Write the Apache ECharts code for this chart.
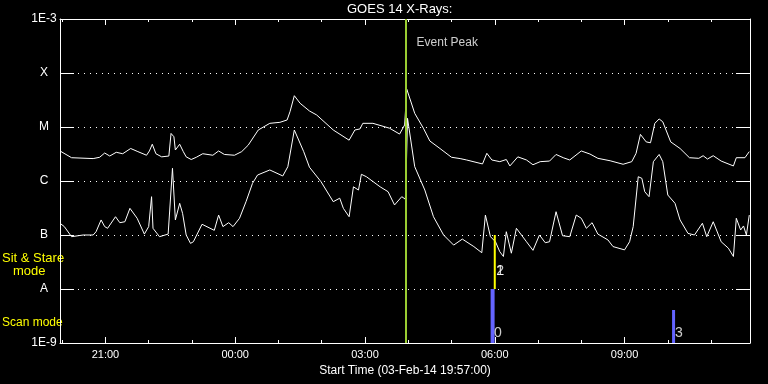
<!DOCTYPE html>
<html><head><meta charset="utf-8">
<script src="https://cdn.jsdelivr.net/npm/echarts@6/dist/echarts.min.js"></script>
<style>html,body{margin:0;padding:0;background:#000}#c{width:768px;height:384px}</style>
</head><body><div id="c"></div>
<script>
const titleText = 'GOES 14 X-Rays:';
const xAxisTitle = 'Start Time (03-Feb-14 19:57:00)';
const startTime = '19:57';
const endTime = '11:54';
const xTickLabels = ['21:00', '00:00', '03:00', '06:00', '09:00'];
const yTickValues = [1e-9, 1e-8, 1e-7, 1e-6, 1e-5, 1e-4, 1e-3];
const yTickLabels = ['1E-9', 'A', 'B', 'C', 'M', 'X', '1E-3'];

const upperTimes = ['19:57','20:13','20:43','20:52','20:59','21:06','21:15','21:24','21:35','21:45','21:57','22:01','22:05','22:10','22:18','22:28','22:31','22:35','22:37','22:43','22:48','22:52','22:59','23:06','23:15','23:29','23:37','23:45','23:59','00:09','00:18','00:32','00:48','01:02','01:12','01:16','01:22','01:30','01:43','01:53','02:16','02:38','02:46','02:53','02:57','03:11','03:34','03:48','03:55','03:58','04:09','04:21','04:30','04:44','05:00','05:12','05:21','05:43','05:49','05:56','06:07','06:16','06:21','06:32','06:44','06:53','07:03','07:16','07:25','07:35','07:44','08:00','08:12','08:23','08:40','08:58','09:10','09:16','09:22','09:30','09:36','09:42','09:48','09:53','10:04','10:17','10:30','10:43','10:49','10:55','11:03','11:14','11:31','11:35','11:47','11:53'];
const upperFlux = [3.6e-6,2.7e-6,2.6e-6,2.75e-6,3.3e-6,2.9e-6,3.4e-6,3.2e-6,4.0e-6,3.5e-6,3.0e-6,3.6e-6,4.8e-6,3.2e-6,2.8e-6,2.9e-6,7.6e-6,6.6e-6,3.75e-6,4.8e-6,3.5e-6,2.8e-6,2.5e-6,2.75e-6,3.2e-6,3.0e-6,3.6e-6,3.1e-6,3.0e-6,3.5e-6,4.6e-6,8.8e-6,1.17e-5,1.22e-5,1.35e-5,1.92e-5,3.8e-5,2.75e-5,1.98e-5,1.67e-5,8.8e-6,5.7e-6,8.8e-6,9.2e-6,1.17e-5,1.17e-5,9.5e-6,7.4e-6,1.09e-5,5.0e-5,1.79e-5,9.5e-6,5.5e-6,4.0e-6,2.75e-6,2.6e-6,2.45e-6,2.07e-6,3.26e-6,2.45e-6,2.28e-6,2.5e-6,1.9e-6,2.8e-6,2.45e-6,2.0e-6,2.28e-6,2.34e-6,3.1e-6,2.7e-6,2.45e-6,3.6e-6,3.16e-6,2.63e-6,2.37e-6,2.04e-6,2.28e-6,3.26e-6,7.3e-6,5.3e-6,5.1e-6,1.17e-5,1.41e-5,1.25e-5,5.3e-6,4.0e-6,2.7e-6,2.63e-6,2.94e-6,2.55e-6,2.94e-6,2.34e-6,1.9e-6,2.7e-6,2.7e-6,3.5e-6];

const lowerTimes = ['19:57','20:03','20:13','20:29','20:43','20:47','20:54','20:59','21:03','21:14','21:20','21:27','21:34','21:44','21:54','22:00','22:04','22:06','22:15','22:27','22:33','22:37','22:43','22:47','22:52','22:58','23:02','23:14','23:31','23:37','23:43','23:51','23:57','00:06','00:15','00:24','00:31','00:48','01:06','01:13','01:22','01:35','01:43','01:59','02:16','02:25','02:30','02:38','02:44','02:51','02:55','03:02','03:21','03:32','03:41','03:51','03:56','03:57','03:59','04:09','04:23','04:35','04:49','05:03','05:15','05:31','05:42','05:47','05:54','06:01','06:07','06:12','06:16','06:23','06:30','06:44','06:53','07:02','07:10','07:16','07:25','07:34','07:44','07:53','08:00','08:07','08:15','08:23','08:37','08:44','09:00','09:07','09:12','09:19','09:24','09:28','09:34','09:40','09:48','09:53','10:00','10:10','10:17','10:28','10:37','10:48','10:54','11:03','11:14','11:24','11:31','11:35','11:41','11:45','11:49','11:53'];
const lowerFlux = [1.65e-7,1.43e-7,9.3e-8,1.0e-7,1.0e-7,1.15e-7,1.9e-7,1.43e-7,1.33e-7,2.18e-7,1.69e-7,1.76e-7,3.12e-7,2.04e-7,1.04e-7,1.43e-7,5.12e-7,1.33e-7,9.3e-8,1.04e-7,1.72e-6,1.9e-7,3.86e-7,2.52e-7,1.0e-7,7.0e-8,7.5e-8,1.58e-7,1.22e-7,2.34e-7,1.43e-7,1.69e-7,1.43e-7,2.04e-7,4.14e-7,9.06e-7,1.29e-6,1.6e-6,1.24e-6,1.84e-6,8.8e-6,3.5e-6,1.8e-6,9.7e-7,4.14e-7,4.8e-7,3.12e-7,2.18e-7,7.8e-7,6.8e-7,1.33e-6,1.2e-6,7.8e-7,6.34e-7,3.6e-7,5.12e-7,4.6e-7,1.2e-6,1.45e-5,1.84e-6,6.8e-7,2.18e-7,1.0e-7,6.5e-8,8.4e-8,6.1e-8,4.7e-8,2.34e-7,9.3e-8,7.5e-8,4.9e-8,4.0e-8,1.15e-7,4.6e-8,1.33e-7,7.5e-8,5.2e-8,1.0e-7,7.2e-8,7.5e-8,2.7e-7,9.7e-8,9.3e-8,2.34e-7,2.04e-7,1.33e-7,1.69e-7,1.04e-7,8.1e-8,6.1e-8,5.3e-8,7.5e-8,1.43e-7,1.2e-6,1.12e-6,6.34e-7,5.12e-7,2.28e-6,3.1e-6,2.28e-6,5.5e-7,3.86e-7,1.9e-7,1.07e-7,1.0e-7,1.65e-7,9.3e-8,1.76e-7,7.5e-8,5.7e-8,4.0e-8,2.04e-7,1.24e-7,1.47e-7,1.0e-7,2.34e-7];

const eventPeakTime = '03:57';
const eventPeakLabel = 'Event Peak';
const eventPeakLabelFlux = 3.6e-4;

const scanTimes = ['05:57', '10:08'];
const scanBottoms = [1e-9, 1e-9];
const scanTops = [1e-8, 4.1e-9];
const scanLabels = ['0', '3'];
const scanLabelFlux = [1.5e-9, 1.55e-9];

const stareTimes = ['06:00'];
const stareBottoms = [1e-8];
const stareTops = [1e-7];
const stareLabels = ['1', '2'];
const stareLabelTimes = ['06:00', '06:00'];
const stareLabelFlux = [2.1e-8, 2.1e-8];

const FONT = 'Liberation Sans';
const WHITE = '#ffffff';
const YELLOW = '#ffff00';
const BLUE = '#6464ff';
const GREEN = '#9acd32';
const scanWidths = [4, 3];

function toMin(s) {
  const p = s.split(':').map(Number);
  return (p[0] < 12 ? p[0] + 24 : p[0]) * 60 + p[1];
}
function fmtMin(v) {
  const m = ((Math.round(v) % 1440) + 1440) % 1440;
  const h = Math.floor(m / 60), mm = m % 60;
  return (h < 10 ? '0' : '') + h + ':' + (mm < 10 ? '0' : '') + mm;
}
const xMin = toMin(startTime), xMax = toMin(endTime);
const majorTicks = xTickLabels.map(toMin);
const minorTicks = [];
for (let t = Math.ceil(xMin / 60) * 60; t <= xMax; t += 60) minorTicks.push(t);

const yLabelMap = {};
yTickValues.forEach((v, i) => { yLabelMap[Math.round(Math.log10(v))] = yTickLabels[i]; });

const baseX = {
  type: 'value', min: xMin, max: xMax, gridIndex: 0,
  splitLine: { show: false }
};
const xAxes = [
  Object.assign({}, baseX, {
    position: 'bottom',
    axisLine: { show: true, lineStyle: { color: WHITE, width: 1 } },
    axisTick: { show: true, inside: true, length: 6, customValues: majorTicks, lineStyle: { color: WHITE } },
    axisLabel: { show: true, customValues: majorTicks, formatter: fmtMin, color: WHITE, fontSize: 11, fontFamily: FONT, margin: 6 },
    name: xAxisTitle, nameLocation: 'middle', nameGap: 19,
    nameTextStyle: { color: WHITE, fontSize: 12, fontFamily: FONT }
  }),
  Object.assign({}, baseX, {
    position: 'bottom',
    axisLine: { show: false },
    axisTick: { show: true, inside: true, length: 3, customValues: minorTicks, lineStyle: { color: WHITE } },
    axisLabel: { show: false }
  }),
  Object.assign({}, baseX, {
    position: 'top',
    axisLine: { show: true, lineStyle: { color: WHITE, width: 1 } },
    axisTick: { show: true, inside: true, length: 6, customValues: majorTicks, lineStyle: { color: WHITE } },
    axisLabel: { show: false }
  }),
  Object.assign({}, baseX, {
    position: 'top',
    axisLine: { show: false },
    axisTick: { show: true, inside: true, length: 3, customValues: minorTicks, lineStyle: { color: WHITE } },
    axisLabel: { show: false }
  })
];

const baseY = { type: 'log', logBase: 10, min: yTickValues[0], max: yTickValues[yTickValues.length - 1], gridIndex: 0 };
const yAxes = [
  Object.assign({}, baseY, {
    position: 'left',
    axisLine: { show: true, lineStyle: { color: WHITE, width: 1 } },
    axisTick: { show: true, inside: true, length: 14, lineStyle: { color: WHITE } },
    axisLabel: {
      show: true, color: WHITE, fontSize: 12, fontFamily: FONT, margin: 16, align: 'center',
      formatter: v => yLabelMap[Math.round(Math.log10(v))] || ''
    },
    splitLine: { show: true, showMinLine: false, showMaxLine: false, lineStyle: { color: WHITE, width: 1, type: [1, 5] } }
  }),
  Object.assign({}, baseY, {
    position: 'right',
    axisLine: { show: true, lineStyle: { color: WHITE, width: 1 } },
    axisTick: { show: true, inside: true, length: 14, lineStyle: { color: WHITE } },
    axisLabel: { show: false },
    splitLine: { show: false }
  })
];

const series = [];
series.push({
  type: 'line', name: 'long', showSymbol: false, symbol: 'none',
  data: upperTimes.map((t, i) => [toMin(t), upperFlux[i]]),
  lineStyle: { color: WHITE, width: 1 }, z: 3,
  markLine: {
    silent: true, symbol: 'none', label: { show: false },
    lineStyle: { color: GREEN, width: 2, type: 'solid', opacity: 1 },
    emphasis: { disabled: true },
    data: [{ xAxis: toMin(eventPeakTime) }]
  }
});
series.push({
  type: 'line', name: 'short', showSymbol: false, symbol: 'none',
  data: lowerTimes.map((t, i) => [toMin(t), lowerFlux[i]]),
  lineStyle: { color: WHITE, width: 1 }, z: 3
});
scanTimes.forEach((t, i) => {
  series.push({
    type: 'line', showSymbol: false, symbol: 'none', z: 4,
    data: [[toMin(t), scanBottoms[i]], [toMin(t), scanTops[i]]],
    lineStyle: { color: BLUE, width: scanWidths[i] }
  });
});
stareTimes.forEach((t, i) => {
  series.push({
    type: 'line', showSymbol: false, symbol: 'none', z: 4,
    data: [[toMin(t), stareBottoms[i]], [toMin(t), stareTops[i]]],
    lineStyle: { color: YELLOW, width: 2 }
  });
});
const textPoints = [];
scanTimes.forEach((t, i) => textPoints.push({ name: scanLabels[i], value: [toMin(t), scanLabelFlux[i]] }));
stareLabelTimes.forEach((t, i) => textPoints.push({ name: stareLabels[i], value: [toMin(t), stareLabelFlux[i]] }));
series.push({
  type: 'scatter', symbolSize: 1, itemStyle: { color: 'rgba(0,0,0,0)' }, z: 5,
  data: textPoints,
  label: { show: true, formatter: '{b}', position: 'right', distance: 1, color: WHITE, fontSize: 14, fontFamily: FONT }
});
series.push({
  type: 'scatter', symbolSize: 1, itemStyle: { color: 'rgba(0,0,0,0)' }, z: 5,
  data: [{ name: eventPeakLabel, value: [toMin(eventPeakTime), eventPeakLabelFlux] }],
  label: { show: true, formatter: '{b}', position: 'right', distance: 10, color: WHITE, fontSize: 12, fontFamily: FONT }
});

const chart = echarts.init(document.getElementById('c'), null, { renderer: 'canvas' });
chart.setOption({
  backgroundColor: '#000000',
  animation: false,
  title: {
    text: titleText, left: 347, top: 3, padding: 0,
    textStyle: { color: WHITE, fontSize: 13, fontWeight: 'normal', fontFamily: FONT }
  },
  grid: { left: 60, right: 18, top: 19, bottom: 41, containLabel: false },
  xAxis: xAxes,
  yAxis: yAxes,
  graphic: [
    { type: 'text', left: 2, top: 252, style: { text: 'Sit & Stare', fill: YELLOW, font: '13px "Liberation Sans"' } },
    { type: 'text', left: 13, top: 265, style: { text: 'mode', fill: YELLOW, font: '13px "Liberation Sans"' } },
    { type: 'text', left: 2, top: 317, style: { text: 'Scan mode', fill: YELLOW, font: '12px "Liberation Sans"' } }
  ],
  series: series
});
</script>
</body></html>
